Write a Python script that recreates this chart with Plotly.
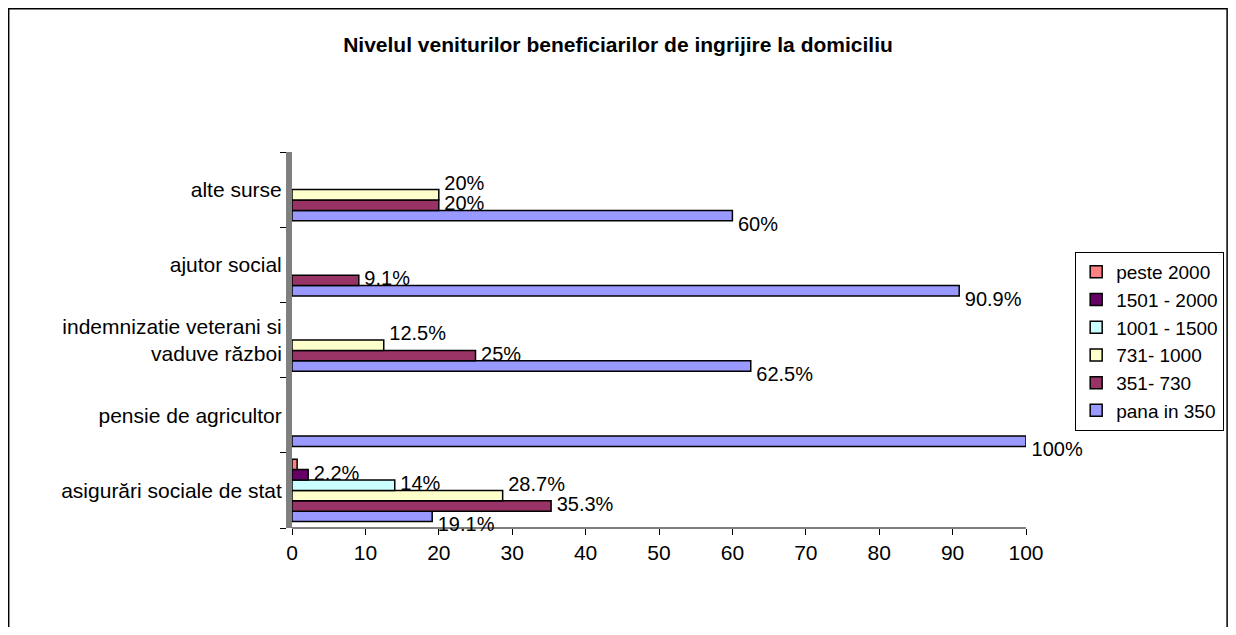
import plotly.graph_objects as go

# Data
categories = ["asigurări sociale de stat", "pensie de agricultor",
              "indemnizatie veterani si<br>vaduve război", "ajutor social", "alte surse"]

series_names = ["pana in 350", "351- 730", "731- 1000", "1001 - 1500", "1501 - 2000", "peste 2000"]
pana_350 = [19.1, 100, 62.5, 90.9, 60]
v351_730 = [35.3, None, 25, 9.1, 20]
v731_1000 = [28.7, None, 12.5, None, 20]
v1001_1500 = [14, None, None, None, None]
v1501_2000 = [2.2, None, None, None, None]
peste_2000 = [0.7, None, None, None, None]
series_values = [pana_350, v351_730, v731_1000, v1001_1500, v1501_2000, peste_2000]
show_labels = [True, True, True, True, True, False]

colors = ["#9999FF", "#993366", "#FFFFCC", "#CCFFFF", "#660066", "#FF8080"]
label_pos = ["bottom right", "middle right", "top right", "middle right", "middle right", "middle right"]

fig = go.Figure()
for i, (name, vals, col) in enumerate(zip(series_names, series_values, colors)):
    fig.add_trace(go.Bar(
        y=categories, x=vals, name=name, orientation="h",
        offsetgroup=name, legendrank=100 - i,
        marker=dict(color=col, line=dict(color="black", width=1.5)),
    ))

# data labels, aligned with the grouped bars
for i, (name, vals, lab) in enumerate(zip(series_names, series_values, show_labels)):
    txt = [("\u00a0" + f"{v:g}%" if (v is not None and lab) else "") for v in vals]
    fig.add_trace(go.Scatter(
        y=categories, x=vals, mode="text", text=txt, orientation="h",
        offsetgroup=name, textposition=label_pos[i], showlegend=False,
        hoverinfo="skip", cliponaxis=False,
        textfont=dict(size=20, color="black"),
    ))

fig.update_layout(
    width=1220, height=619,
    barmode="group", bargap=0.17, bargroupgap=0,
    scattermode="group", scattergap=0.17,
    plot_bgcolor="white", paper_bgcolor="white",
    font=dict(family="Arial, Liberation Sans, sans-serif", size=20, color="black"),
    title=dict(text="<b>Nivelul veniturilor beneficiarilor de ingrijire la domiciliu</b>",
               x=0.5, xanchor="center", y=0.94, yanchor="middle",
               font=dict(size=21)),
    margin=dict(l=284, r=202, t=144, b=99, autoexpand=False),
    legend=dict(x=1.067, y=0.734, xanchor="left", yanchor="top",
                bordercolor="black", borderwidth=1, font=dict(size=19),
                itemwidth=30, tracegroupgap=10),
    xaxis=dict(range=[0, 100], dtick=10, showgrid=False, zeroline=False,
               ticks="outside", ticklen=6, tickcolor="black", showline=False,
               tickfont=dict(size=21)),
    yaxis=dict(showgrid=False, ticks="outside", tickson="boundaries", ticklen=6,
               tickcolor="black", showline=True, linecolor="#808080", linewidth=6,
               automargin=False, tickfont=dict(size=21)),
    shapes=[
        dict(type="rect", xref="paper", yref="paper", x0=-0.386, x1=1.274, y0=-0.6, y1=1.381,
             line=dict(color="black", width=1.5), layer="below"),
        dict(type="line", xref="paper", yref="paper", x0=0, x1=1, y0=0, y1=0,
             line=dict(color="black", width=1)),
    ],
)

fig.write_html("out.html")
